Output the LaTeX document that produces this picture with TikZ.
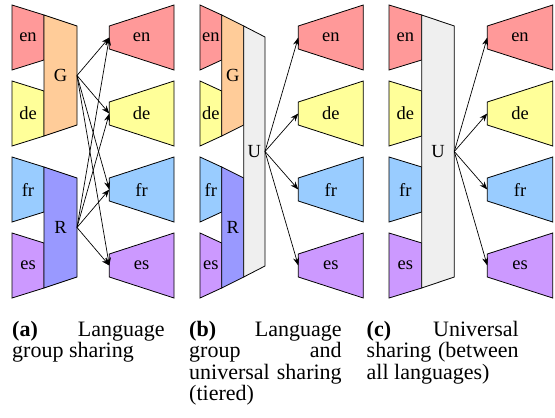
\documentclass[tikz,border=0pt]{standalone}
\usepackage{fontspec}
\setmainfont{Liberation Serif}
\usetikzlibrary{arrows.meta}
\definecolor{cen}{HTML}{FF9999}
\definecolor{cde}{HTML}{FFFF99}
\definecolor{cfr}{HTML}{99CCFF}
\definecolor{ces}{HTML}{CC99FF}
\definecolor{cG}{HTML}{FFCC99}
\definecolor{cR}{HTML}{9999FF}
\definecolor{cU}{HTML}{EFEFEF}
\begin{document}
\begin{tikzpicture}[x=1pt,y=-1pt,
  blk/.style={draw=black, line width=0.8pt, line join=miter},
  lbl/.style={font=\fontsize{18.5}{20}\selectfont, inner sep=0pt},
  arr/.style={-{Stealth[length=8pt,width=6pt]}, line width=0.7pt},
  captxt/.style={font=\fontsize{22}{22}\selectfont, anchor=base west, inner sep=0pt}]
\useasboundingbox (0,0) rectangle (555,418);

% ---------- encoders and decoders ----------
\foreach \t/\c/\l in {5/cen/en, 81/cde/de, 157/cfr/fr, 233/ces/es}{
  % panel a
  \draw[blk, fill=\c] (12,\t) -- (44,\t+10) -- (44,\t+55) -- (12,\t+65) -- cycle;
  \node[lbl] (ea-\l) at (28,\t+32.5) {\l};
  \draw[blk, fill=\c] (109.3,\t+21) -- (174,\t) -- (174,\t+65) -- (109.3,\t+44) -- cycle;
  \node[lbl] (dla-\l) at (141.6,\t+32.5) {\l};
  \coordinate (da-\l) at (109.3,\t+32.5);
  % panel b
  \draw[blk, fill=\c] (200,\t) -- (221.7,\t+10) -- (221.7,\t+55) -- (200,\t+65) -- cycle;
  \node[lbl] (eb-\l) at (210.8,\t+32.5) {\l};
  \draw[blk, fill=\c] (298.3,\t+21) -- (363.3,\t) -- (363.3,\t+65) -- (298.3,\t+44) -- cycle;
  \node[lbl] (dlb-\l) at (330.8,\t+32.5) {\l};
  \coordinate (db-\l) at (298.3,\t+32.5);
  % panel c
  \draw[blk, fill=\c] (389,\t) -- (421.7,\t+10) -- (421.7,\t+55) -- (389,\t+65) -- cycle;
  \node[lbl] (ec-\l) at (405.3,\t+32.5) {\l};
  \draw[blk, fill=\c] (487.3,\t+21) -- (552.7,\t) -- (552.7,\t+65) -- (487.3,\t+44) -- cycle;
  \node[lbl] (dlc-\l) at (520,\t+32.5) {\l};
  \coordinate (dc-\l) at (487.3,\t+32.5);
}

% ---------- shared blocks, panel a ----------
\draw[blk, fill=cG] (44,15) -- (77,26) -- (77,125) -- (44,136) -- cycle;
\node[lbl] (Ga) at (60.5,75.5) {G};
\coordinate (Ga-out) at (77,75.5);
\draw[blk, fill=cR] (44,167) -- (77,178) -- (77,277) -- (44,288) -- cycle;
\node[lbl] (Ra) at (60.5,227.5) {R};
\coordinate (Ra-out) at (77,227.5);

% ---------- shared blocks, panel b ----------
\draw[blk, fill=cG] (221.7,15) -- (243.7,26) -- (243.7,125) -- (221.7,136) -- cycle;
\node[lbl] (Gb) at (232.7,75.5) {G};
\draw[blk, fill=cR] (221.7,167) -- (243.7,178) -- (243.7,277) -- (221.7,288) -- cycle;
\node[lbl] (Rb) at (232.7,227.5) {R};
\draw[blk, fill=cU] (243.7,26) -- (265,37) -- (265,266) -- (243.7,277) -- cycle;
\node[lbl] (Ub) at (254.3,151.5) {U};
\coordinate (Ub-out) at (265,151.5);

% ---------- shared block, panel c ----------
\draw[blk, fill=cU] (421.7,15) -- (454.3,26) -- (454.3,277) -- (421.7,288) -- cycle;
\node[lbl] (Uc) at (438,151.5) {U};
\coordinate (Uc-out) at (454.3,151.5);

% ---------- connectors ----------
\foreach \l in {en,de,fr,es}{
  \draw[arr] (Ga-out) -- (da-\l);
  \draw[arr] (Ra-out) -- (da-\l);
  \draw[arr] (Ub-out) -- (db-\l);
  \draw[arr] (Uc-out) -- (dc-\l);
}

% ---------- captions ----------
\node[captxt] (ca1) at (12,336.5) {\makebox[152.5pt][s]{\textbf{(a)} Language}};
\node[captxt] (ca2) at (12,357.9) {group sharing};
\node[captxt] (cb1) at (189,336.5) {\makebox[152.5pt][s]{\textbf{(b)} Language}};
\node[captxt] (cb2) at (189,357.9) {\makebox[152.5pt][s]{group and}};
\node[captxt] (cb3) at (189,379.3) {\makebox[152.5pt][s]{universal sharing}};
\node[captxt] (cb4) at (189,400.7) {(tiered)};
\node[captxt] (cc1) at (366.5,336.5) {\makebox[152pt][s]{\textbf{(c)} Universal}};
\node[captxt] (cc2) at (366.5,357.9) {\makebox[152pt][s]{sharing (between}};
\node[captxt] (cc3) at (366.5,379.3) {all languages)};
\end{tikzpicture}
\end{document}
